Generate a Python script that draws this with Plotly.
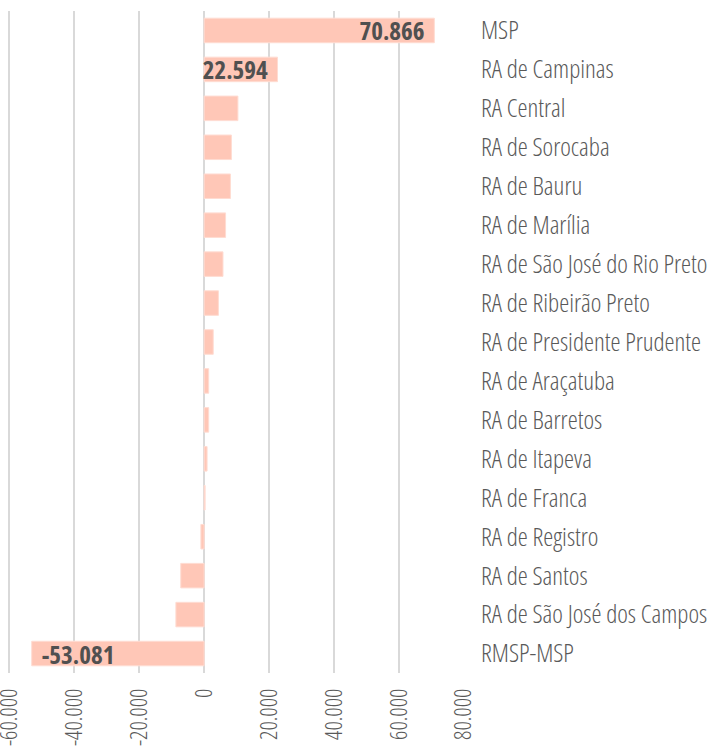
import plotly.graph_objects as go

categories = [
    "MSP", "RA de Campinas", "RA Central", "RA de Sorocaba", "RA de Bauru",
    "RA de Marília", "RA de São José do Rio Preto", "RA de Ribeirão Preto",
    "RA de Presidente Prudente", "RA de Araçatuba", "RA de Barretos",
    "RA de Itapeva", "RA de Franca", "RA de Registro", "RA de Santos",
    "RA de São José dos Campos", "RMSP-MSP",
]
values = [70866, 22594, 10400, 8400, 8100, 6600, 5800, 4400, 2800, 1400,
          1400, 900, 300, -1000, -7200, -8700, -53081]
bar_labels = ["70.866", "22.594", "", "", "", "", "", "", "", "", "", "",
              "", "", "", "", "-53.081"]
tick_vals = [-60000, -40000, -20000, 0, 20000, 40000, 60000, 80000]
tick_labels = ["-60.000", "-40.000", "-20.000", "0", "20.000", "40.000",
               "60.000", "80.000"]

FONT = "Open Sans"

fig = go.Figure(go.Bar(
    x=values, y=categories, orientation="h",
    marker=dict(color="#FFC7B7", line=dict(color="#FFDCD2", width=1)),
    text=bar_labels, textposition="inside", insidetextanchor="end",
    textfont=dict(family=FONT, size=25, color="#505050", weight="bold"),
    constraintext="none", cliponaxis=False,
))

fig.update_layout(
    width=711, height=751,
    margin=dict(l=6, r=247, t=11, b=78),
    plot_bgcolor="white", paper_bgcolor="white",
    bargap=0.37, showlegend=False,
    font=dict(family=FONT, color="#595959"),
    xaxis=dict(
        range=[-61000, 80000], tickvals=tick_vals, ticktext=tick_labels,
        tickangle=-90, showgrid=True, gridcolor="#D9D9D9", gridwidth=1.5,
        zeroline=True, zerolinecolor="#D9D9D9", zerolinewidth=1.5,
        showline=False, ticks="", ticklabelstandoff=10,
        tickfont=dict(size=23, color="#595959", weight=300),
        fixedrange=True, automargin=False, ticklabeloverflow="allow",
    ),
    yaxis=dict(
        categoryorder="array", categoryarray=categories, autorange="reversed",
        side="right", showgrid=False, zeroline=False, showline=False,
        ticks="", ticklabelstandoff=16, automargin=False,
        ticklabeloverflow="allow", fixedrange=True,
        tickfont=dict(size=25.3, color="#595959", weight=300),
    ),
)

page_style = """
var s = document.createElement('style');
s.textContent = 'html, body { margin: 0 !important; padding: 0 !important; overflow: hidden; }'
  + ' .main-svg text { font-stretch: 75% !important; }';
document.head.appendChild(s);
"""
fig.write_html("out.html", post_script=page_style,
               config={"displayModeBar": False})
